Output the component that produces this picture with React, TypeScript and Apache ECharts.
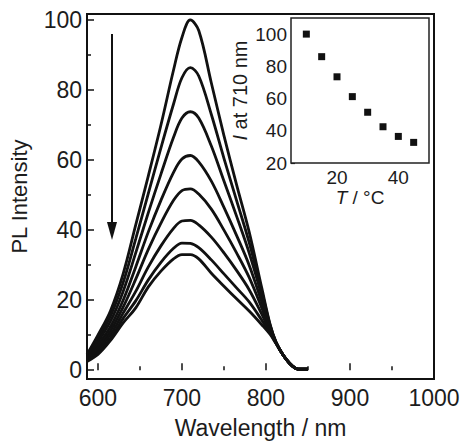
import React, { useEffect, useRef } from "react";
import * as echarts from "echarts";

// Wavelength grid (nm) at which the spectra were read
const wavelengths = [587, 600, 615, 630, 645, 660, 675, 690, 700, 710, 720, 735, 750, 765, 780, 795, 805, 812, 820, 828, 835, 842, 850];

// PL spectra, highest temperature last
const spectrum1 = [4.5, 10, 17, 27.5, 41.5, 55.5, 70, 85.7, 95, 100, 97, 82, 67, 53, 39.5, 23.5, 13, 8, 4.5, 2, 0.6, 0.3, 0.3];
const spectrum2 = [4.2, 9, 15.5, 25, 37.5, 50.5, 63.5, 76, 83.5, 86.4, 84, 73, 60.5, 48.5, 36.5, 22.5, 12.8, 8, 4.5, 2, 0.6, 0.3, 0.3];
const spectrum3 = [3.9, 8.2, 14, 22.5, 33.5, 45, 56, 66.5, 72, 73.8, 72, 64, 54, 44, 33.5, 21.3, 12.5, 7.9, 4.5, 2, 0.6, 0.3, 0.3];
const spectrum4 = [3.6, 7.3, 12.5, 20, 29.5, 39.5, 48.5, 56.5, 60.3, 61.3, 59.5, 54, 46.5, 38.5, 30, 19.5, 12, 7.9, 4.5, 2, 0.6, 0.3, 0.3];
const spectrum5 = [3.3, 6.5, 11.3, 18, 26, 34.5, 42, 48.5, 51.3, 51.8, 50.3, 46, 40, 33.5, 26.5, 17.8, 11.5, 7.8, 4.5, 2, 0.6, 0.3, 0.3];
const spectrum6 = [3, 5.8, 10.2, 16.3, 22.5, 29.5, 35.5, 40.5, 42.6, 42.8, 41.5, 38, 33.5, 28.5, 23, 16, 11, 7.8, 4.5, 2, 0.6, 0.3, 0.3];
const spectrum7 = [2.7, 5, 9.2, 14.8, 19.8, 25.8, 30.8, 34.8, 36.3, 36.2, 35, 31.5, 27.5, 23.5, 19.5, 14.3, 10.6, 7.7, 4.5, 2, 0.6, 0.3, 0.3];
const spectrum8 = [2.5, 4.5, 8.5, 13.5, 17.8, 23.8, 28.3, 31.8, 33, 33, 31.8, 27.7, 24, 20.4, 16.9, 13, 10.2, 7.6, 4.5, 2, 0.6, 0.3, 0.3];
const spectra = [spectrum1, spectrum2, spectrum3, spectrum4, spectrum5, spectrum6, spectrum7, spectrum8];

// Inset: intensity at 710 nm vs temperature
const temperatures = [10, 15, 20, 25, 30, 35, 40, 45];
const intensity710 = [100, 86, 73.5, 61.2, 51.5, 42.5, 36.5, 32.8];

// Tick values
const xTickLabels = [600, 700, 800, 900, 1000];
const xMinorTicks = [650, 750, 850, 950];
const yTickLabels = [0, 20, 40, 60, 80, 100];
const yMinorTicks = [10, 30, 50, 70, 90];
const insetYLabels = [20, 40, 60, 80, 100];
const insetYMinor = [30, 50, 70, 90];
const insetXLabels = [20, 40];
const insetXTicks = [10, 20, 30, 40];
const insetXMinor = [15, 25, 35, 45];

const FONT = "'Liberation Sans', Arial, Helvetica, sans-serif";
const INK = "#111";
const TXT = "#1c1c1c";
const plain = (v: number) => String(v);

export default function App() {
  const ref = useRef<HTMLDivElement>(null);
  useEffect(() => {
    if (!ref.current) return;
    const chart = echarts.init(ref.current, undefined, { renderer: "svg" });
    const tick = (vals: number[], len: number, w = 1.5) => ({
      inside: true,
      length: len,
      customValues: vals,
      lineStyle: { color: INK, width: w },
    });
    const option: any = {
      animation: false,
      backgroundColor: "#fff",
      textStyle: { fontFamily: FONT },
      grid: [
        { left: 85, top: 14, width: 349, height: 369, show: true, borderColor: INK, borderWidth: 2, backgroundColor: "transparent" },
        { left: 291, top: 18, width: 138, height: 145, show: true, borderColor: "#222", borderWidth: 1.5, backgroundColor: "#fff", z: 3 },
      ],
      xAxis: [
        {
          gridIndex: 0, type: "value", min: 587, max: 1000, position: "bottom",
          axisLine: { show: false }, splitLine: { show: false },
          axisTick: tick(xTickLabels, 7),
          axisLabel: { customValues: xTickLabels, formatter: plain, fontSize: 23, color: TXT, margin: 7, fontFamily: FONT },
          name: "Wavelength / nm", nameLocation: "middle", nameGap: 37,
          nameTextStyle: { fontSize: 23, color: TXT, fontFamily: FONT },
        },
        {
          gridIndex: 0, type: "value", min: 587, max: 1000, position: "bottom",
          axisLine: { show: false }, splitLine: { show: false },
          axisTick: tick(xMinorTicks, 4), axisLabel: { show: false },
        },
        {
          gridIndex: 1, type: "value", min: 5, max: 50, position: "bottom",
          axisLine: { show: false }, splitLine: { show: false },
          axisTick: tick(insetXTicks, 4, 1.2),
          axisLabel: { customValues: insetXLabels, formatter: plain, fontSize: 19, color: TXT, margin: 5, fontFamily: FONT },
          name: "{i|T} / °C", nameLocation: "middle", nameGap: 19,
          nameTextStyle: { fontSize: 19, color: TXT, fontFamily: FONT, rich: { i: { fontStyle: "italic", fontSize: 19, fontFamily: FONT, color: TXT } } },
        },
        {
          gridIndex: 1, type: "value", min: 5, max: 50, position: "bottom",
          axisLine: { show: false }, splitLine: { show: false },
          axisTick: tick(insetXMinor, 3, 1.2), axisLabel: { show: false },
        },
      ],
      yAxis: [
        {
          gridIndex: 0, type: "value", min: -2.5, max: 101.7, position: "left",
          axisLine: { show: false }, splitLine: { show: false },
          axisTick: tick(yTickLabels, 7),
          axisLabel: { customValues: yTickLabels, formatter: plain, fontSize: 23, color: TXT, margin: 5, fontFamily: FONT },
          name: "PL Intensity", nameLocation: "middle", nameGap: 57,
          nameTextStyle: { fontSize: 22, color: TXT, fontFamily: FONT },
        },
        {
          gridIndex: 0, type: "value", min: -2.5, max: 101.7, position: "left",
          axisLine: { show: false }, splitLine: { show: false },
          axisTick: tick(yMinorTicks, 4), axisLabel: { show: false },
        },
        {
          gridIndex: 1, type: "value", min: 20, max: 110, position: "left",
          axisLine: { show: false }, splitLine: { show: false },
          axisTick: tick(insetYLabels, 4, 1.2),
          axisLabel: { customValues: insetYLabels, formatter: plain, fontSize: 19, color: TXT, margin: 4, fontFamily: FONT },
          name: "{i|I} at 710 nm", nameLocation: "middle", nameGap: 41,
          nameTextStyle: { fontSize: 20, color: TXT, fontFamily: FONT, rich: { i: { fontStyle: "italic", fontSize: 20, fontFamily: FONT, color: TXT } } },
        },
        {
          gridIndex: 1, type: "value", min: 20, max: 110, position: "left",
          axisLine: { show: false }, splitLine: { show: false },
          axisTick: tick(insetYMinor, 3, 1.2), axisLabel: { show: false },
        },
      ],
      series: [
        ...spectra.map((s, k) => ({
          name: "spectrum" + (k + 1),
          type: "line",
          xAxisIndex: 0,
          yAxisIndex: 0,
          data: wavelengths.map((w, i) => [w, s[i]]),
          showSymbol: false,
          symbol: "none",
          smooth: 0.35,
          lineStyle: { color: INK, width: 2.8 },
          z: 2,
        })),
        {
          name: "inset",
          type: "scatter",
          xAxisIndex: 2,
          yAxisIndex: 2,
          data: temperatures.map((t, i) => [t, intensity710[i]]),
          symbol: "rect",
          symbolSize: 7,
          itemStyle: { color: INK, opacity: 1 },
          z: 5,
        },
      ],
      graphic: [
        { type: "line", shape: { x1: 112, y1: 34, x2: 112, y2: 226 }, style: { stroke: INK, lineWidth: 2 }, z: 10 },
        { type: "polygon", shape: { points: [[107, 222], [117, 222], [112, 240]] }, style: { fill: INK }, z: 10 },
      ],
    };
    chart.setOption(option);
    return () => chart.dispose();
  }, []);
  return <div ref={ref} style={{ position: "fixed", left: 0, top: 0, width: 465, height: 444, background: "#fff" }} />;
}
